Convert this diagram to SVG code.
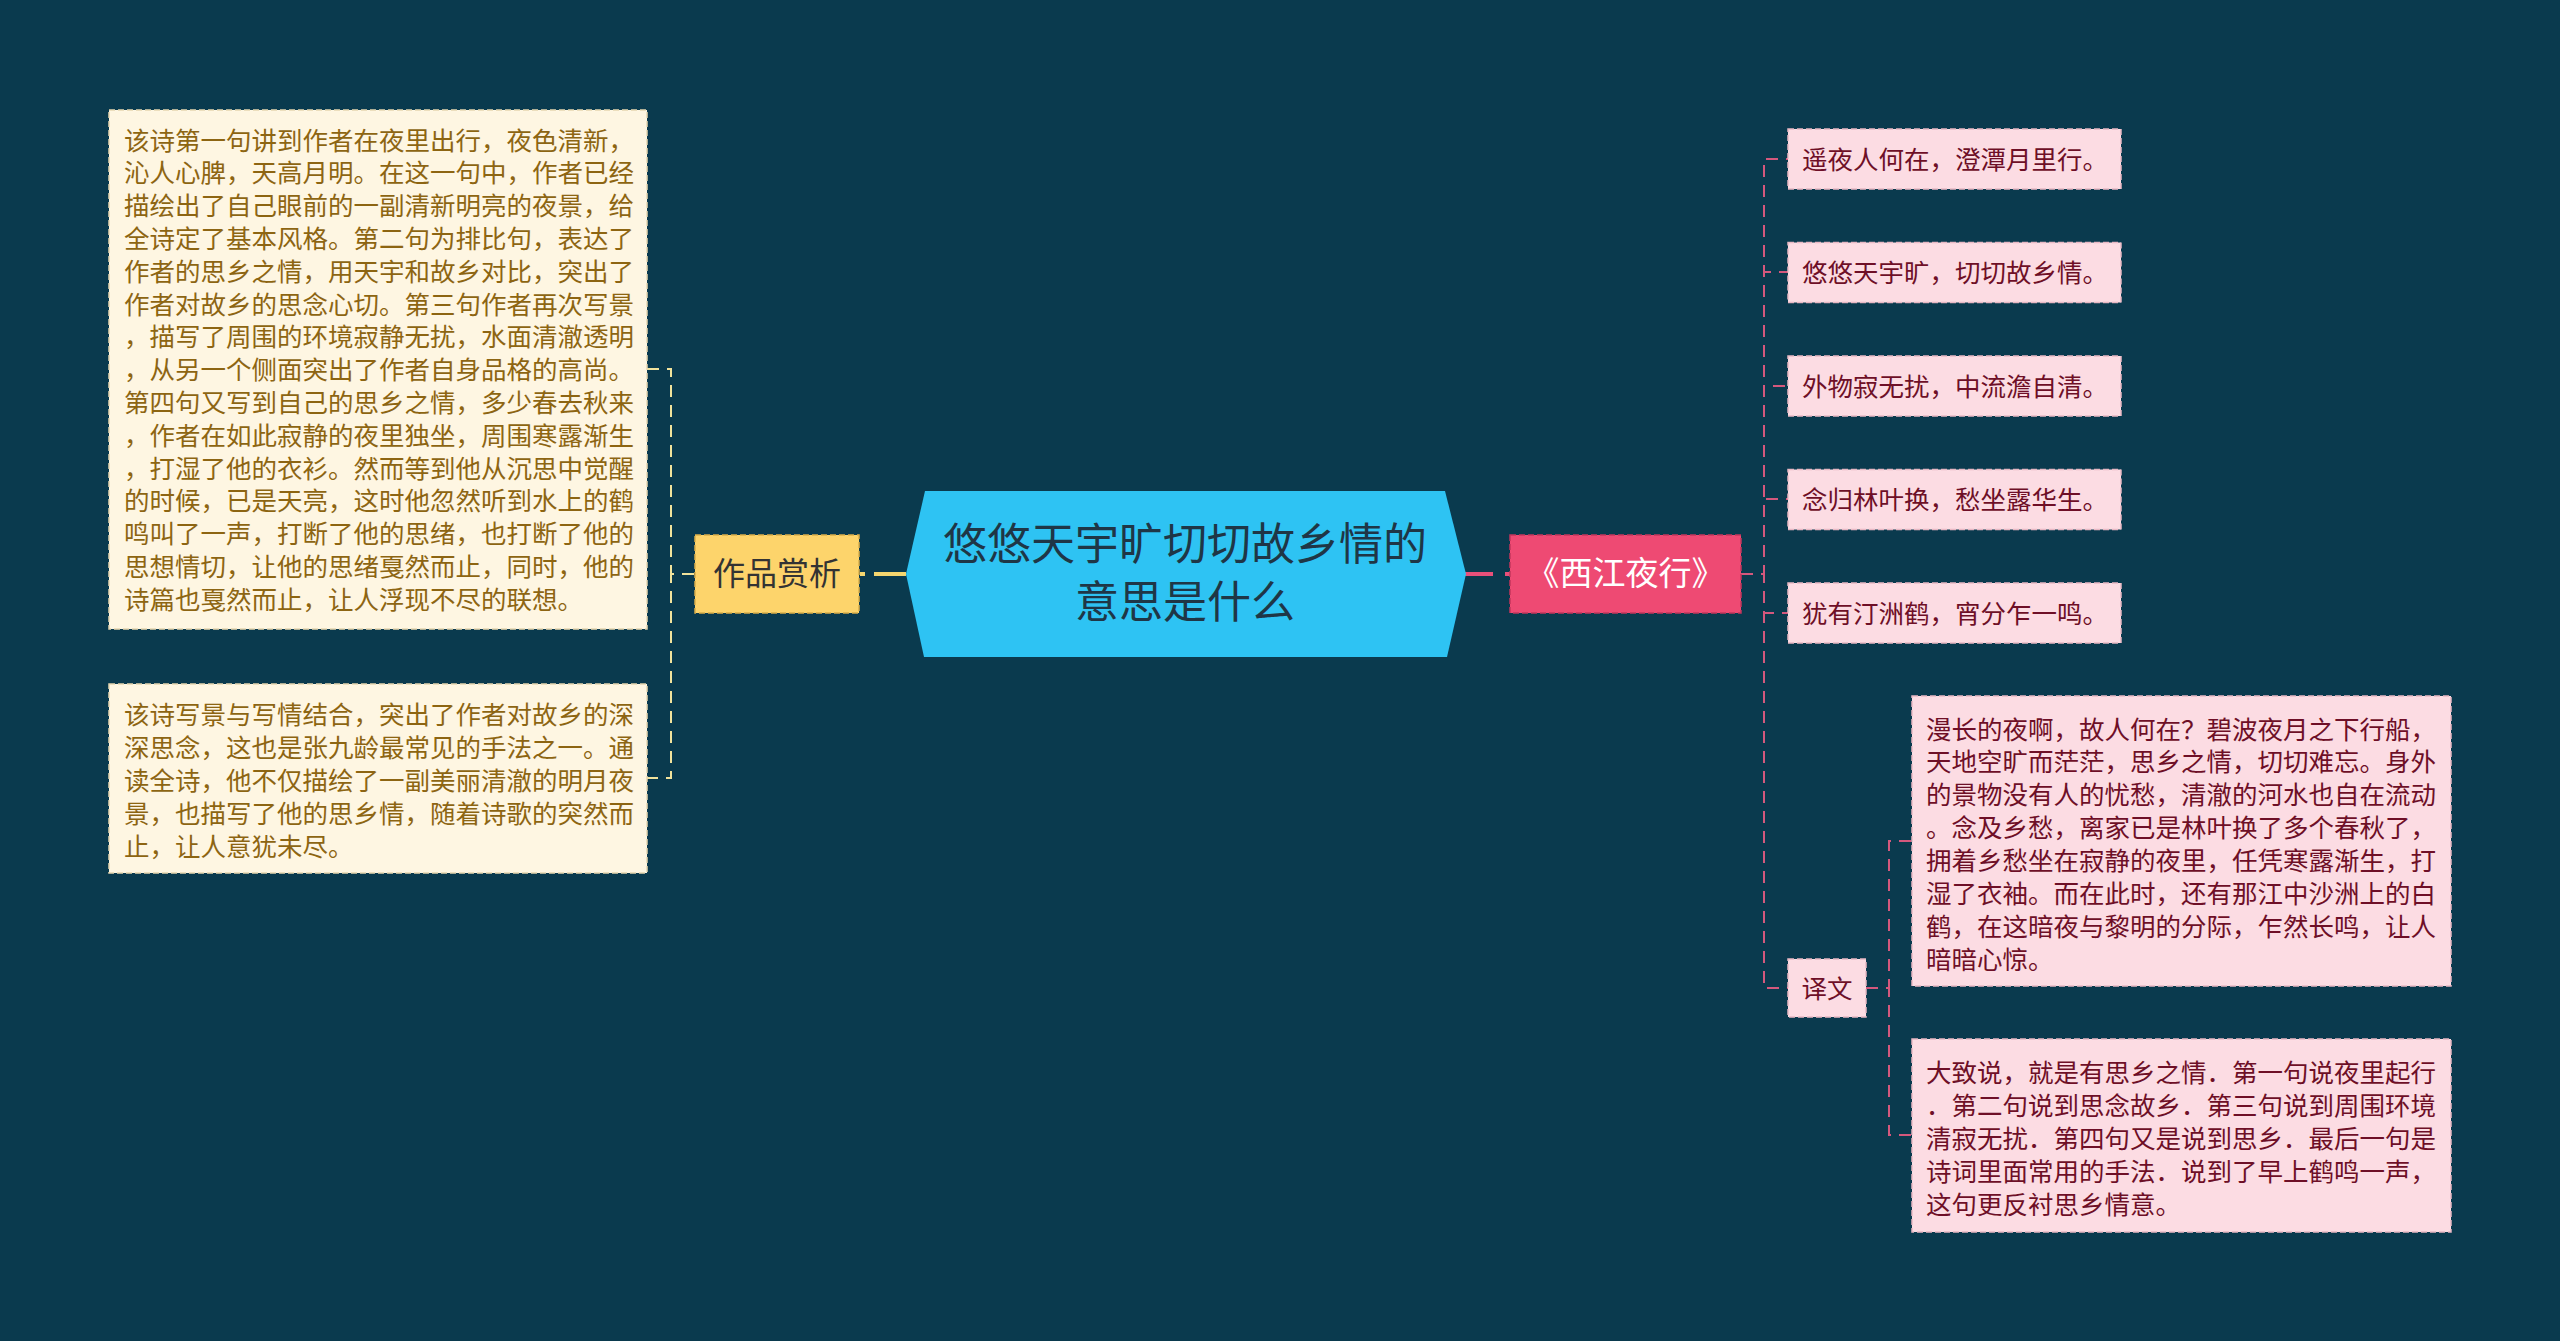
<svg xmlns="http://www.w3.org/2000/svg" width="2560" height="1341" viewBox="0 0 2560 1341">
<style>
text{font-family:"Noto Sans CJK SC","Noto Sans",sans-serif;dominant-baseline:central}
.ct{font-size:25.5px;fill:#8d6512}
.pt{font-size:25.5px;fill:#6e0f27}
.cream{fill:#fef6e2;stroke:#e6d6b0;stroke-width:1.5;stroke-dasharray:6 3}
.pink{fill:#fcdce3;stroke:#e8b8c4;stroke-width:1.5;stroke-dasharray:6 3}
.cy{fill:none;stroke:#f1e39c;stroke-width:2;stroke-dasharray:12 8}
.cp{fill:none;stroke:#d4587d;stroke-width:2;stroke-dasharray:12 8}
</style>
<rect width="2560" height="1341" fill="#0a3a4e"/>
<g id="connectors">
<path d="M860 574H906" stroke="#f5d66f" stroke-width="4" stroke-dasharray="5 9 40"/>
<path d="M1465 574H1510" stroke="#e8507a" stroke-width="4" stroke-dasharray="28 12 5"/>
<path class="cy" d="M694 574H671V369H647"/>
<path class="cy" d="M694 574H671V778H647"/>
<path class="cp" d="M1741 574H1764V159H1788"/>
<path class="cp" d="M1741 574H1764V272H1788"/>
<path class="cp" d="M1741 574H1764V386H1788"/>
<path class="cp" d="M1741 574H1764V499H1788"/>
<path class="cp" d="M1741 574H1764V613H1788"/>
<path class="cp" d="M1741 574H1764V988H1788"/>
<path class="cp" d="M1866 988H1889V841H1912"/>
<path class="cp" d="M1866 988H1889V1135H1912"/>
</g>
<g id="root">
<polygon points="925,491 1445,491 1466,574 1447,657 924,657 906,574" fill="#2ec3f3"/>
<text x="1185" y="541" font-size="44" fill="#1f3646" text-anchor="middle">悠悠天宇旷切切故乡情的</text>
<text x="1185" y="599" font-size="44" fill="#1f3646" text-anchor="middle">意思是什么</text>
</g>
<g id="zuopin">
<rect x="695" y="535" width="164" height="78" fill="#fdd46b" stroke="#d9ad4a" stroke-width="1.5" stroke-dasharray="6 3"/>
<text x="777" y="571" font-size="32" fill="#333" text-anchor="middle">作品赏析</text>
</g>
<g id="shangxi1">
<rect class="cream" x="109" y="110" width="538" height="519"/>
<g class="ct">
<text x="124" y="138">该诗第一句讲到作者在夜里出行，夜色清新，</text>
<text x="124" y="170.8">沁人心脾，天高月明。在这一句中，作者已经</text>
<text x="124" y="203.6">描绘出了自己眼前的一副清新明亮的夜景，给</text>
<text x="124" y="236.4">全诗定了基本风格。第二句为排比句，表达了</text>
<text x="124" y="269.2">作者的思乡之情，用天宇和故乡对比，突出了</text>
<text x="124" y="302">作者对故乡的思念心切。第三句作者再次写景</text>
<text x="124" y="334.8">，描写了周围的环境寂静无扰，水面清澈透明</text>
<text x="124" y="367.6">，从另一个侧面突出了作者自身品格的高尚。</text>
<text x="124" y="400.4">第四句又写到自己的思乡之情，多少春去秋来</text>
<text x="124" y="433.2">，作者在如此寂静的夜里独坐，周围寒露渐生</text>
<text x="124" y="466">，打湿了他的衣衫。然而等到他从沉思中觉醒</text>
<text x="124" y="498.8">的时候，已是天亮，这时他忽然听到水上的鹤</text>
<text x="124" y="531.6">鸣叫了一声，打断了他的思绪，也打断了他的</text>
<text x="124" y="564.4">思想情切，让他的思绪戛然而止，同时，他的</text>
<text x="124" y="597.2">诗篇也戛然而止，让人浮现不尽的联想。</text>
</g>
</g>
<g id="shangxi2">
<rect class="cream" x="109" y="684" width="538" height="189"/>
<g class="ct">
<text x="124" y="712">该诗写景与写情结合，突出了作者对故乡的深</text>
<text x="124" y="745">深思念，这也是张九龄最常见的手法之一。通</text>
<text x="124" y="778">读全诗，他不仅描绘了一副美丽清澈的明月夜</text>
<text x="124" y="811">景，也描写了他的思乡情，随着诗歌的突然而</text>
<text x="124" y="844">止，让人意犹未尽。</text>
</g>
</g>
<g id="xijiang">
<rect x="1510" y="535" width="231" height="78" fill="#ee4a73" stroke="#c4365c" stroke-width="1.5" stroke-dasharray="6 3"/>
<text x="1625.5" y="571" font-size="33" fill="#ffffff" text-anchor="middle">《西江夜行》</text>
</g>
<g id="line1">
<rect class="pink" x="1788" y="129" width="333" height="60"/>
<text class="pt" x="1802" y="157">遥夜人何在，澄潭月里行。</text>
</g>
<g id="line2">
<rect class="pink" x="1788" y="242.5" width="333" height="60"/>
<text class="pt" x="1802" y="270.5">悠悠天宇旷，切切故乡情。</text>
</g>
<g id="line3">
<rect class="pink" x="1788" y="356" width="333" height="60"/>
<text class="pt" x="1802" y="384">外物寂无扰，中流澹自清。</text>
</g>
<g id="line4">
<rect class="pink" x="1788" y="469.5" width="333" height="60"/>
<text class="pt" x="1802" y="497.5">念归林叶换，愁坐露华生。</text>
</g>
<g id="line5">
<rect class="pink" x="1788" y="583" width="333" height="60"/>
<text class="pt" x="1802" y="611">犹有汀洲鹤，宵分乍一鸣。</text>
</g>
<g id="yiwen">
<rect class="pink" x="1788" y="959" width="78" height="58"/>
<text class="pt" x="1827" y="986" text-anchor="middle">译文</text>
</g>
<g id="yiwen1">
<rect class="pink" x="1912" y="696" width="539" height="290"/>
<g class="pt">
<text x="1926" y="727">漫长的夜啊，故人何在？碧波夜月之下行船，</text>
<text x="1926" y="759.9">天地空旷而茫茫，思乡之情，切切难忘。身外</text>
<text x="1926" y="792.7">的景物没有人的忧愁，清澈的河水也自在流动</text>
<text x="1926" y="825.6">。念及乡愁，离家已是林叶换了多个春秋了，</text>
<text x="1926" y="858.4">拥着乡愁坐在寂静的夜里，任凭寒露渐生，打</text>
<text x="1926" y="891.3">湿了衣袖。而在此时，还有那江中沙洲上的白</text>
<text x="1926" y="924.1">鹤，在这暗夜与黎明的分际，乍然长鸣，让人</text>
<text x="1926" y="957">暗暗心惊。</text>
</g>
</g>
<g id="yiwen2">
<rect class="pink" x="1912" y="1039" width="539" height="193"/>
<g class="pt">
<text x="1926" y="1070">大致说，就是有思乡之情．第一句说夜里起行</text>
<text x="1926" y="1103">．第二句说到思念故乡．第三句说到周围环境</text>
<text x="1926" y="1136">清寂无扰．第四句又是说到思乡．最后一句是</text>
<text x="1926" y="1169">诗词里面常用的手法．说到了早上鹤鸣一声，</text>
<text x="1926" y="1202">这句更反衬思乡情意。</text>
</g>
</g>
</svg>
